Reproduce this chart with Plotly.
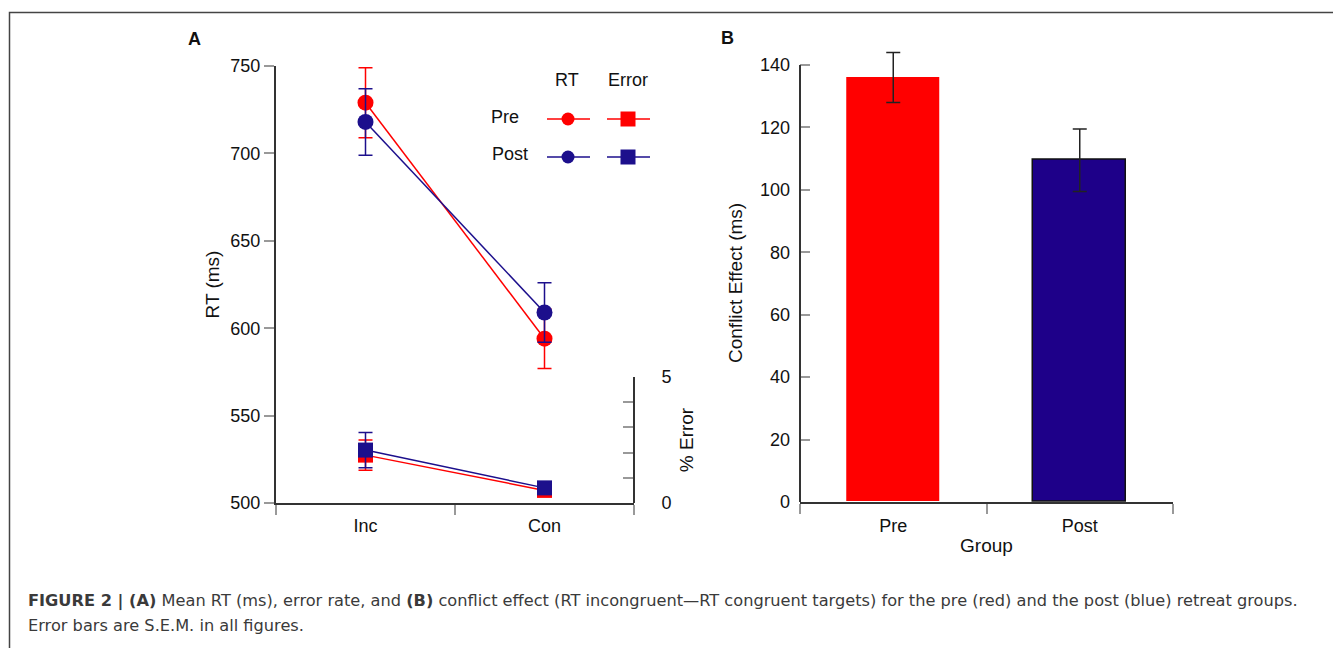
import plotly.graph_objects as go

W, H = 1341, 648
OX, OY = 8, 8  # page offset of the plot div in the browser
def px(x):
    return (x - OX) / W
def py(y):
    return 1 - (y - OY) / H

RED = "#FF0000"
BLUE = "#1C0F8C"
BLUE_BAR = "#1E0089"
FONT = "Liberation Sans, Arial, sans-serif"
CAP_FONT = "DejaVu Sans"

# ---- data ----
conditions = ["Inc", "Con"]
cond_pos = [0.5, 1.5]
rt_pre = [729, 594]
rt_pre_sem = [20, 17]
rt_post = [718, 609]
rt_post_sem = [19, 17]
err_pre = [1.9, 0.5]
err_pre_sem = [0.6, 0.2]
err_post = [2.1, 0.6]
err_post_sem = [0.7, 0.2]

groups = ["Pre", "Post"]
group_pos = [0.5, 1.5]
conflict = [136, 109.5]
conflict_sem = [8, 10]
conflict_ticks = [0, 20, 40, 60, 80, 100, 120, 140]

fig = go.Figure()

def eb(arr, color):
    return dict(type="data", array=arr, color=color, thickness=1.5, width=7, visible=True)

# RT lines
fig.add_trace(go.Scatter(x=cond_pos, y=rt_pre, mode="lines+markers", xaxis="x", yaxis="y",
                         line=dict(color=RED, width=1.5), marker=dict(color=RED, size=16, symbol="circle"),
                         error_y=eb(rt_pre_sem, RED), cliponaxis=False, showlegend=False))
fig.add_trace(go.Scatter(x=cond_pos, y=rt_post, mode="lines+markers", xaxis="x", yaxis="y",
                         line=dict(color=BLUE, width=1.5), marker=dict(color=BLUE, size=16, symbol="circle"),
                         error_y=eb(rt_post_sem, BLUE), cliponaxis=False, showlegend=False))
# Error lines
fig.add_trace(go.Scatter(x=cond_pos, y=err_pre, mode="lines+markers", xaxis="x", yaxis="y3",
                         line=dict(color=RED, width=1.5), marker=dict(color=RED, size=15, symbol="square"),
                         error_y=eb(err_pre_sem, RED), cliponaxis=False, showlegend=False))
fig.add_trace(go.Scatter(x=cond_pos, y=err_post, mode="lines+markers", xaxis="x", yaxis="y3",
                         line=dict(color=BLUE, width=1.5), marker=dict(color=BLUE, size=15, symbol="square"),
                         error_y=eb(err_post_sem, BLUE), cliponaxis=False, showlegend=False))
# Bars
fig.add_trace(go.Bar(x=group_pos, y=conflict, width=0.5, xaxis="x2", yaxis="y2", cliponaxis=False,
                     marker=dict(color=[RED, BLUE_BAR], line=dict(color=["rgba(0,0,0,0)", "#111111"], width=1.5)),
                     error_y=dict(type="data", array=conflict_sem, color="#222222", thickness=1.5, width=7),
                     showlegend=False))

axis_common = dict(showline=True, linecolor="#333333", linewidth=2, showgrid=False, zeroline=False,
                   automargin=False,
                   tickfont=dict(family=FONT, size=18, color="#111111"), tickcolor="#999999", tickwidth=1.5)

# right panel: 0 at y=502, 140 at y=65; range extended to 150 so the top error bar is not clipped
y2_top = 65 - (502 - 65) / 140 * 10

fig.update_layout(
    template="none",
    width=W, height=H, autosize=False,
    margin=dict(l=0, r=0, t=0, b=0, pad=0, autoexpand=False),
    paper_bgcolor="white", plot_bgcolor="white",
    font=dict(family=FONT, size=18, color="#111111"),
    bargap=0,
    xaxis=dict(domain=[px(276), px(634)], range=[0, 2], anchor="y", tickvals=cond_pos, ticktext=conditions,
               ticks="", ticklabelstandoff=5,
               minor=dict(tickvals=[0, 1, 2], ticks="outside", ticklen=10, tickcolor="#999999", tickwidth=1.5),
               **axis_common),
    yaxis=dict(domain=[py(503), py(66)], range=[500, 750], anchor="x", tickvals=[500, 550, 600, 650, 700, 750],
               ticks="outside", ticklen=10,
               title=dict(text="RT (ms)", font=dict(family=FONT, size=19), standoff=6),
               **axis_common),
    yaxis3=dict(domain=[py(503), py(377)], range=[0, 5], anchor="free", position=px(634), side="right",
                tickvals=[0, 1, 2, 3, 4, 5], ticktext=["0", "", "", "", "", "5"],
                ticks="inside", ticklen=10, ticklabelstandoff=23,
                title=dict(text="% Error", font=dict(family=FONT, size=19), standoff=8),
                **axis_common),
    xaxis2=dict(domain=[px(800), px(1173)], range=[0, 2], anchor="y2", tickvals=group_pos, ticktext=groups,
                ticks="", ticklabelstandoff=6,
                minor=dict(tickvals=[0, 1, 2], ticks="outside", ticklen=10, tickcolor="#999999", tickwidth=1.5),
                title=dict(text="Group", font=dict(family=FONT, size=19), standoff=4),
                **axis_common),
    yaxis2=dict(domain=[py(502), py(y2_top)], range=[0, 150], anchor="x2", tickvals=conflict_ticks,
                ticks="inside", ticklen=10, ticklabelstandoff=9,
                **{**axis_common, "showline": False}),
)

shapes = []
# figure border
shapes.append(dict(type="rect", xref="paper", yref="paper", x0=px(9.5), x1=px(1400), y0=py(12.5), y1=py(720),
                   line=dict(color="#444444", width=1.5), fillcolor="rgba(0,0,0,0)", layer="below"))
# right panel y axis line, ending at the top tick
shapes.append(dict(type="line", xref="x2 domain", yref="y2", x0=0, x1=0, y0=0, y1=conflict_ticks[-1],
                   line=dict(color="#333333", width=2), layer="above"))
# custom legend
for yy, col in [(119, RED), (157, BLUE)]:
    shapes.append(dict(type="line", xref="paper", yref="paper", x0=px(547), x1=px(590), y0=py(yy), y1=py(yy),
                       line=dict(color=col, width=1.5)))
    shapes.append(dict(type="line", xref="paper", yref="paper", x0=px(607), x1=px(650), y0=py(yy), y1=py(yy),
                       line=dict(color=col, width=1.5)))
    shapes.append(dict(type="circle", xref="paper", yref="paper", x0=px(561.5), x1=px(574.5), y0=py(yy - 6.5),
                       y1=py(yy + 6.5), fillcolor=col, line=dict(color=col, width=0)))
    shapes.append(dict(type="rect", xref="paper", yref="paper", x0=px(620.5), x1=px(635.5), y0=py(yy - 7.5),
                       y1=py(yy + 7.5), fillcolor=col, line=dict(color=col, width=0)))
fig.update_layout(shapes=shapes)

ann = []
def text(x, y, s, size=18, bold=False, xanchor="center", color="#111111", family=FONT, angle=0):
    ann.append(dict(xref="paper", yref="paper", x=px(x), y=py(y), text=(f"<b>{s}</b>" if bold else s),
                    showarrow=False, xanchor=xanchor, yanchor="middle", textangle=angle,
                    font=dict(family=family, size=size, color=color)))

text(195, 39, "A", size=18, bold=True)
text(727, 38, "B", size=18, bold=True)
text(567, 80, "RT")
text(628, 80, "Error")
text(505, 117, "Pre")
text(510, 154, "Post")
text(735, 283, "Conflict Effect (ms)", size=19, angle=-90)

cap1 = ("<b>FIGURE 2 | (A)</b> Mean RT (ms), error rate, and <b>(B)</b> conflict effect (RT incongruent\u2014RT "
        "congruent targets) for the pre (red) and the post (blue) retreat groups.")
cap2 = "Error bars are S.E.M. in all figures."
text(26, 601, cap1, size=16.2, xanchor="left", color="#3a3a3a", family=CAP_FONT)
text(26, 625, cap2, size=16.2, xanchor="left", color="#3a3a3a", family=CAP_FONT)
fig.update_layout(annotations=ann)

fig.write_html("out.html")
